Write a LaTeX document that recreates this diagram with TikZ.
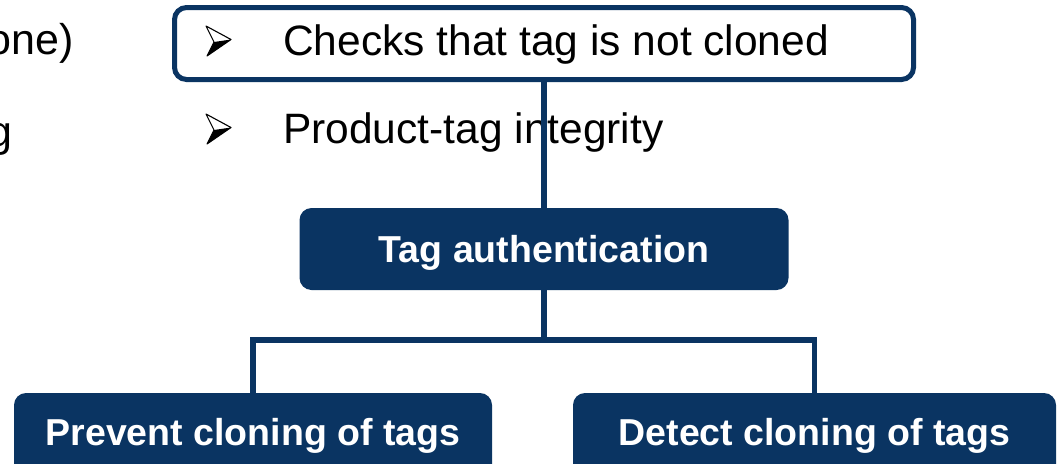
\documentclass[tikz,border=0pt]{standalone}
\usepackage{fontspec}
\setmainfont{Liberation Sans}
\definecolor{navy}{RGB}{10,52,98}
\newcommand\arrbullet[1]{%
  \begin{scope}[shift={(0,#1)}]
    \fill[black] (214,42) -- (231,39.5) -- (207,56) -- cycle;
    \draw[black,line width=1.1pt,line join=round] (206,26) -- (231,39.5) -- (207,56) -- (214,42) -- cycle;
  \end{scope}}
\begin{document}
\begin{tikzpicture}[x=1pt,y=-1pt,
  conn/.style={draw=navy,line width=5.5pt},
  navybox/.style={fill=navy,rounded corners=12pt,text=white,font=\bfseries\fontsize{37.5}{44}\selectfont,inner sep=0pt,outer sep=0pt},
  listtext/.style={anchor=base west,inner sep=0pt,font=\fontsize{42.5}{50}\selectfont},
  cuttext/.style={anchor=base east,inner sep=0pt,font=\fontsize{43}{50}\selectfont}]
\useasboundingbox (0,0) rectangle (1059,463);
\clip (0,0) rectangle (1059,463);
% partially visible texts at the left edge
\node[cuttext] (lt1) at (74,54) {one)};
\node[cuttext] (lt2) at (13,146) {g};
% top box
\node[draw=navy,line width=5pt,fill=white,rounded corners=12pt,minimum width=739pt,minimum height=72pt,inner sep=0pt,outer sep=0pt] (topbox) at (544,43.5) {};
\arrbullet{0}
\node[listtext] (chk) at (283,55) {Checks that tag is not cloned};
\arrbullet{88}
\node[listtext] (integ) at (283,143) {Product-tag integrity};
% boxes
\node[navybox,minimum width=489pt,minimum height=82pt,text height=27pt,text depth=0pt] (tag) at (544,249) {Tag authentication};
\node[navybox,minimum width=478pt,minimum height=90pt,text height=27pt,text depth=13pt] (prev) at (253,438) {Prevent cloning of tags};
\node[navybox,minimum width=483pt,minimum height=90pt,text height=27pt,text depth=13pt] (det) at (814.5,438) {Detect cloning of tags};
\coordinate (split) at (544,340);
% connectors
\draw[conn] (topbox.south) -- (tag.north);
\draw[conn] (tag.south) -- (split);
\draw[conn] (prev.north) |- (split) -| (det.north);
\end{tikzpicture}
\end{document}
